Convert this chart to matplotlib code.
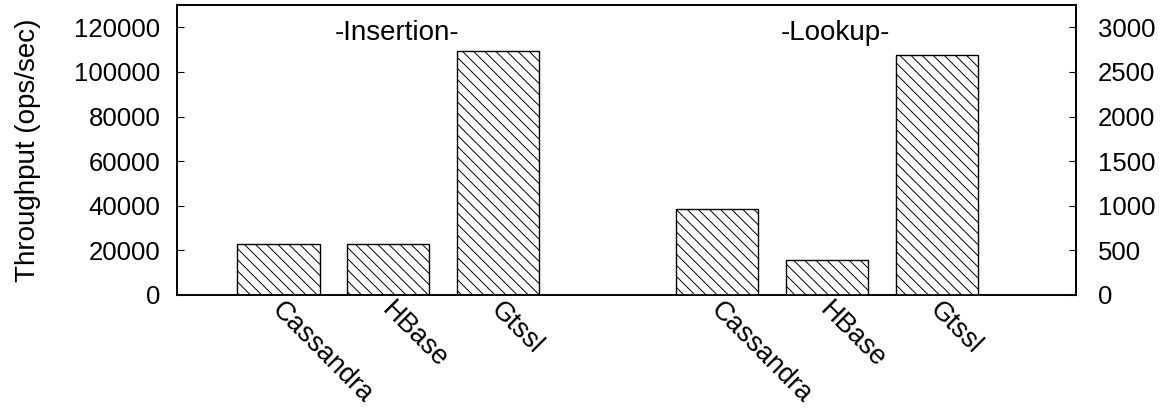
import matplotlib.pyplot as plt

plt.rcParams['font.family'] = ['Liberation Sans', 'DejaVu Sans']
plt.rcParams['hatch.linewidth'] = 0.7

# data
systems = ['Cassandra', 'HBase', 'Gtssl']
insertion = [22800, 22900, 109500]   # ops/sec, left axis
lookup = [965, 390, 2685]            # ops/sec, right axis

ins_pos = [1, 2, 3]
look_pos = [5, 6, 7]

fig = plt.figure(figsize=(11.62, 4.08), dpi=100)
ax = fig.add_axes([0.1523, 0.277, 0.7737, 0.7107])
ax2 = ax.twinx()

ax.bar(ins_pos, insertion, width=0.75, color='white', edgecolor='black',
       hatch='\\\\\\', linewidth=1)
ax2.bar(look_pos, lookup, width=0.75, color='white', edgecolor='black',
        hatch='\\\\\\', linewidth=1)

ax.set_xlim(0.074, 8.27)
ax.set_ylim(0, 130000)
ax2.set_ylim(0, 3250)
ax.set_yticks(range(0, 120001, 20000))
ax2.set_yticks(range(0, 3001, 500))

# x labels: rotated, starting at the bar centre
ax.set_xticks(ins_pos + look_pos)
ax.set_xticklabels([])
for p, name in zip(ins_pos + look_pos, systems + systems):
    ax.annotate(name, xy=(p, 0), xycoords=('data', 'axes fraction'),
                xytext=(4.5, -1.5), textcoords='offset points',
                rotation=-45, ha='left', va='top', rotation_mode='anchor',
                fontsize=19.5, annotation_clip=False)

fs = 18.5
ax.tick_params(axis='x', length=0)
ax.tick_params(axis='y', direction='in', length=5, pad=12, labelsize=fs)
ax2.tick_params(axis='y', direction='in', length=5, pad=16, labelsize=fs)
for a in (ax, ax2):
    for s in a.spines.values():
        s.set_linewidth(1.2)

ax.set_ylabel('Throughput (ops/sec)', fontsize=20, labelpad=24)

ax.text(2.08, 117500, '-Insertion-', ha='center', va='center', fontsize=20)
ax.text(6.08, 117500, '-Lookup-', ha='center', va='center', fontsize=20)

fig.savefig('out.png', dpi=100)
